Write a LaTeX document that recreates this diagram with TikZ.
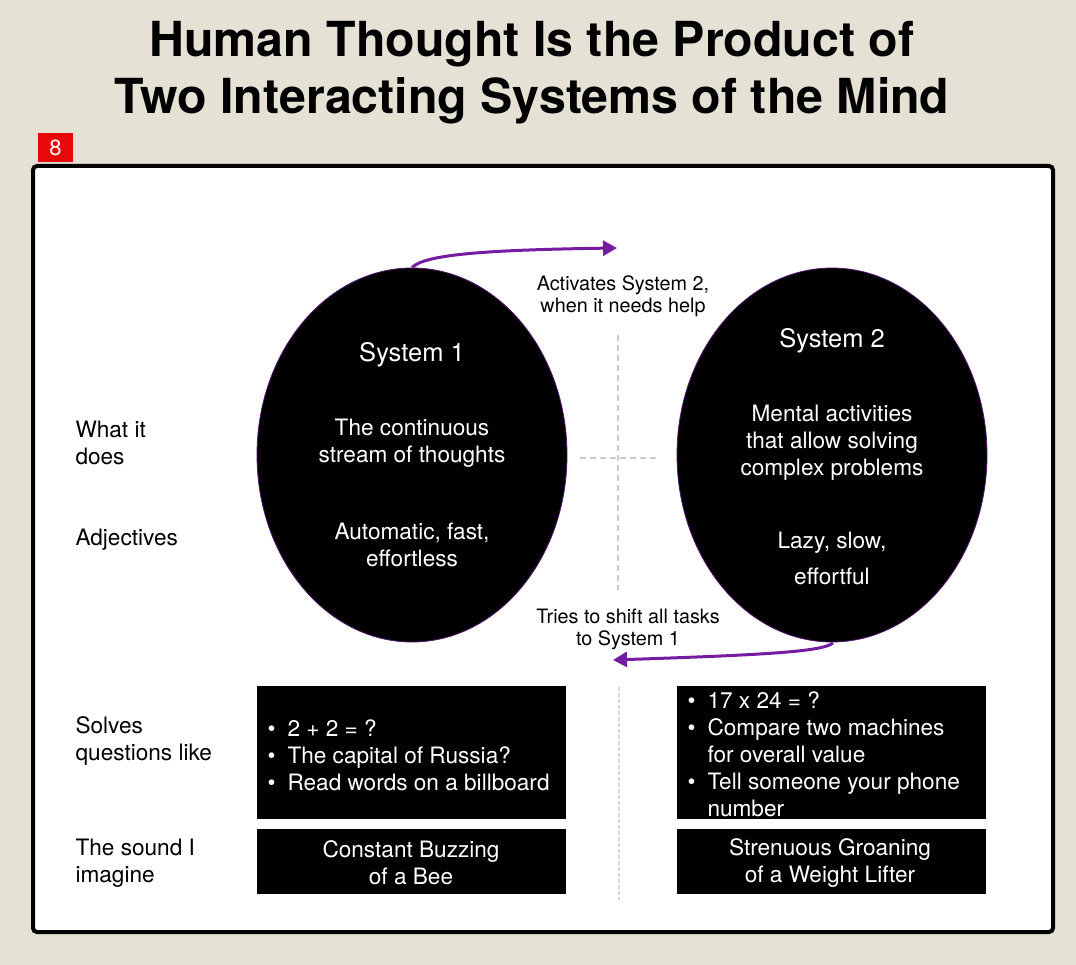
\documentclass[tikz,border=0pt]{standalone}
\usepackage{fontspec}
\setmainfont{TeX Gyre Heros}
\usetikzlibrary{shapes.geometric,arrows.meta}

\definecolor{pagebg}{RGB}{229,225,212}
\definecolor{flowpurple}{RGB}{118,28,160}
\definecolor{badgered}{RGB}{232,8,8}

\tikzset{
  sysellipse/.style={ellipse, fill=black, draw=flowpurple!70!black, line width=0.8pt,
                     minimum width=310pt, minimum height=374pt, inner sep=0pt},
  wtext/.style={text=white, align=center, font=\fontsize{22.6}{27}\selectfont},
  ltext/.style={anchor=west, align=left, font=\fontsize{22.6}{27}\selectfont},
  blackbox/.style={fill=black, draw=black, minimum width=308pt, anchor=north west, inner sep=0pt},
  flow/.style={draw=flowpurple, line width=3pt, -{Triangle[length=14pt,width=15pt]}},
  guide/.style={draw=gray!40, line width=1.6pt, dash pattern=on 6pt off 4pt},
}

\begin{document}
\begin{tikzpicture}[x=1pt, y=-1pt]
    % Page and panel
    \fill[pagebg] (0,0) rectangle (1076,965);
    \useasboundingbox (0,0) rectangle (1076,965);
    \filldraw[fill=white, draw=black, line width=4pt, rounded corners=4pt] (33,166) rectangle (1053,932);

    % Title
    \node[align=center, font=\bfseries\fontsize{48.3}{57}\selectfont] (title) at (532,73)
        {Human Thought Is the Product of\\Two Interacting Systems of the Mind};

    % Slide badge
    \fill[badgered] (38,133) rectangle (73,162);
    \node[text=white, font=\fontsize{22}{26}\selectfont] (badge) at (55.5,147.5) {8};

    % Guide lines
    \draw[guide] (618,335) -- (618,590);
    \draw[guide] (580,458) -- (658,458);
    \draw[guide, draw=gray!30, dash pattern=on 4pt off 2pt] (619,687) -- (619,900);

    % The two systems
    \node[sysellipse] (sys1) at (412,455) {};
    \node[sysellipse] (sys2) at (832,455) {};

    \node[wtext, font=\fontsize{25.5}{28}\selectfont] (head1) at (412,355) {System 1};
    \node[wtext] (does1) at (412,443) {The continuous\\stream of thoughts};
    \node[wtext] (adj1) at (412,545) {Automatic, fast,\\effortless};

    \node[wtext, font=\fontsize{25.5}{28}\selectfont] (head2) at (832,341) {System 2};
    \node[wtext] (does2) at (832,443) {Mental activities\\that allow solving\\complex problems};
    \node[wtext] (adj2) at (832,558) {Lazy, slow,\\[9pt]effortful};

    % Arrows between the systems
    \coordinate (act) at (617,248);
    \coordinate (shift) at (613,660);
    \draw[flow] (sys1.north) .. controls (424,255) and (480,250) .. (act);
    \draw[flow] (833,643) .. controls (822,652) and (760,655) .. (shift);
    \node[align=center, font=\fontsize{19.8}{22}\selectfont] (actlbl) at (623,296)
        {Activates System 2,\\when it needs help};
    \node[align=center, font=\fontsize{19.8}{22}\selectfont] (shiftlbl) at (628,629)
        {Tries to shift all tasks\\to System 1};

    % Row labels
    \node[ltext] (rdoes) at (72,443) {What it\\does};
    \node[ltext] (radj) at (72,540) {Adjectives};
    \node[ltext] (rsolve) at (72,741) {Solves\\questions like};
    \node[ltext] (rsound) at (72,863) {The sound I\\imagine};

    % Example questions
    \node[blackbox, minimum height=132pt] (q1) at (257,686) {};
    \node[blackbox, minimum height=132pt] (q2) at (677,686) {};
    \node[ltext, text=white] (q1txt) at (264,755)
        {\makebox[20pt][l]{\textbullet}2 + 2 = ?\\
         \makebox[20pt][l]{\textbullet}The capital of Russia?\\
         \makebox[20pt][l]{\textbullet}Read words on a billboard};
    \node[ltext, text=white] (q2txt) at (684,754)
        {\makebox[20pt][l]{\textbullet}17 x 24 = ?\\
         \makebox[20pt][l]{\textbullet}Compare two machines\\
         \hspace*{20pt}for overall value\\
         \makebox[20pt][l]{\textbullet}Tell someone your phone\\
         \hspace*{20pt}number};

    % Sounds
    \node[blackbox, minimum height=64pt] (snd1) at (257,829) {};
    \node[blackbox, minimum height=64pt] (snd2) at (677,829) {};
    \node[wtext] (snd1txt) at (411,863) {Constant Buzzing\\of a Bee};
    \node[wtext] (snd2txt) at (830,863) {Strenuous Groaning\\of a Weight Lifter};
\end{tikzpicture}
\end{document}
